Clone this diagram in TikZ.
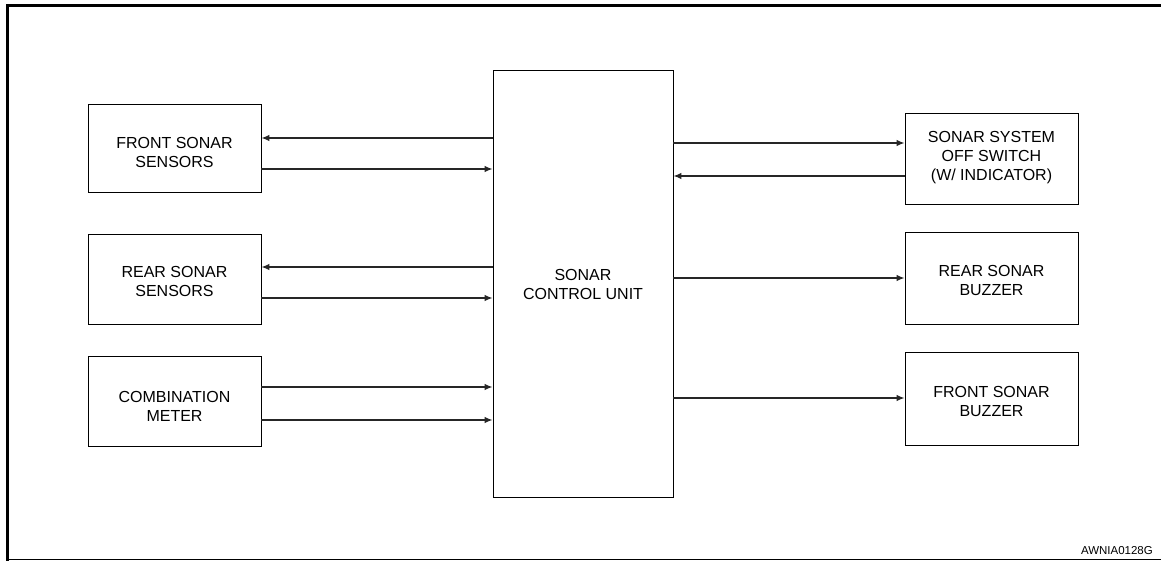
\documentclass[tikz,border=0pt]{standalone}
\usepackage{fontspec}
\setmainfont{Liberation Sans}
\usetikzlibrary{arrows.meta}
\begin{document}
\begin{tikzpicture}[x=1pt,y=-1pt,
  blk/.style={draw=black,line width=0.9pt,inner sep=0pt},
  txt/.style={align=center,font=\fontsize{16}{19}\selectfont,inner sep=0pt},
  sig/.style={draw=black!85,line width=1.2pt,-{Latex[length=8pt,width=6.5pt]}},
  frame/.style={draw=black,line cap=rect}]
\useasboundingbox (0,0) rectangle (1161,561);
% frame
\draw[frame,line width=3pt] (7,6) -- (1161,6);
\draw[frame,line width=3pt] (7,6) -- (7,559);
\draw[line width=1.2pt] (7,559.5) -- (1161,559.5);
% boxes
\node[blk,minimum width=173pt,minimum height=88pt] (fss) at (174.5,148) {};
\node[txt] (fsst) at (174.5,152) {FRONT SONAR\\SENSORS};
\node[blk,minimum width=173pt,minimum height=90pt] (rss) at (174.5,279) {};
\node[txt] (rsst) at (174.5,281) {REAR SONAR\\SENSORS};
\node[blk,minimum width=173pt,minimum height=90pt] (cm) at (174.5,401) {};
\node[txt] (cmt) at (174.5,406) {COMBINATION\\METER};
\node[blk,minimum width=180pt,minimum height=427pt] (cu) at (583,283.5) {};
\node[txt] (cut) at (583,284) {SONAR\\CONTROL UNIT};
\node[blk,minimum width=173pt,minimum height=91pt] (sw) at (991.5,158.5) {};
\node[txt] (swt) at (991.5,158) {SONAR SYSTEM\\OFF SWITCH\\(W/ INDICATOR)};
\node[blk,minimum width=173pt,minimum height=92pt] (rb) at (991.5,278) {};
\node[txt] (rbt) at (991.5,280) {REAR SONAR\\BUZZER};
\node[blk,minimum width=173pt,minimum height=93pt] (fb) at (991.5,398.5) {};
\node[txt] (fbt) at (991.5,401) {FRONT SONAR\\BUZZER};
% left connections
\draw[sig] (cu.west |- 0,138) -- (fss.east |- 0,138);
\draw[sig] (fss.east |- 0,169) -- (cu.west |- 0,169);
\draw[sig] (cu.west |- 0,267) -- (rss.east |- 0,267);
\draw[sig] (rss.east |- 0,298) -- (cu.west |- 0,298);
\draw[sig] (cm.east |- 0,387) -- (cu.west |- 0,387);
\draw[sig] (cm.east |- 0,420) -- (cu.west |- 0,420);
% right connections
\draw[sig] (cu.east |- 0,143) -- (sw.west |- 0,143);
\draw[sig] (sw.west |- 0,176) -- (cu.east |- 0,176);
\draw[sig] (cu.east |- 0,278) -- (rb.west |- 0,278);
\draw[sig] (cu.east |- 0,398) -- (fb.west |- 0,398);
% code
\node[anchor=base east,font=\fontsize{11.5}{13}\selectfont,inner sep=0pt] (code) at (1153,554) {AWNIA0128G};
\end{tikzpicture}
\end{document}
